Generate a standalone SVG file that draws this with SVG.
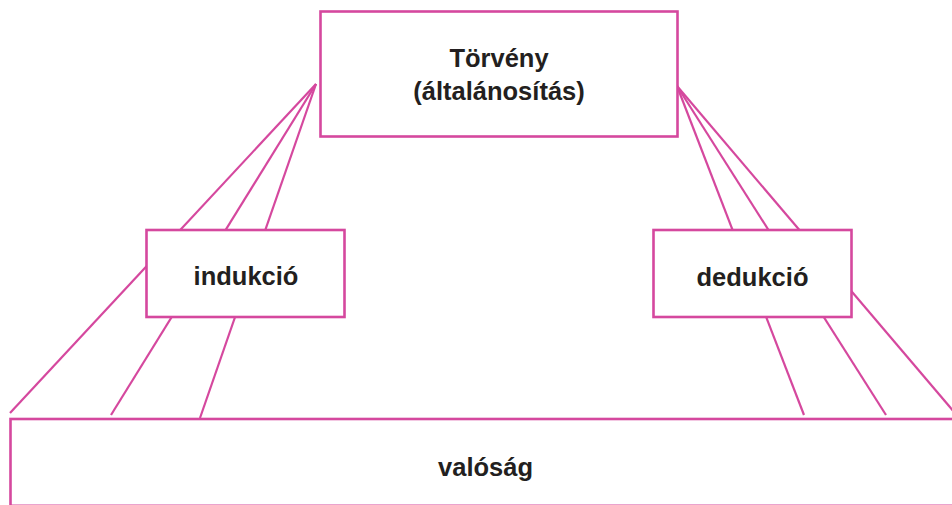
<svg xmlns="http://www.w3.org/2000/svg" width="952" height="505" viewBox="0 0 952 505">
<style>
.box{fill:#fff;stroke:#d5489e;stroke-width:2.6}
.ln{stroke:#d5489e;stroke-width:2.2;fill:none}
.t{font-family:"Liberation Sans",Arial,sans-serif;font-weight:bold;font-size:25.5px;fill:#231f20;text-anchor:middle}
</style>
<rect width="952" height="505" fill="#fff"/>
<g id="connectors">
<line class="ln" x1="316" y1="84" x2="10" y2="413"/>
<line class="ln" x1="316" y1="84" x2="111" y2="415"/>
<line class="ln" x1="316" y1="84" x2="200" y2="418"/>
<line class="ln" x1="677" y1="86" x2="804" y2="415"/>
<line class="ln" x1="677" y1="86" x2="886" y2="415"/>
<line class="ln" x1="677" y1="86" x2="955" y2="413"/>
</g>
<g id="torveny">
<rect class="box" x="320.5" y="11.5" width="357" height="125"/>
<text class="t" x="499" y="67">Törvény</text>
<text class="t" x="499" y="100">(általánosítás)</text>
</g>
<g id="indukcio">
<rect class="box" x="146.5" y="230" width="198" height="87"/>
<text class="t" x="246" y="285">indukció</text>
</g>
<g id="dedukcio">
<rect class="box" x="653.5" y="230" width="198" height="87"/>
<text class="t" x="752.5" y="286">dedukció</text>
</g>
<g id="valosag">
<rect class="box" x="10.5" y="419" width="950" height="86.8"/>
<text class="t" x="485.5" y="476">valóság</text>
</g>
</svg>
